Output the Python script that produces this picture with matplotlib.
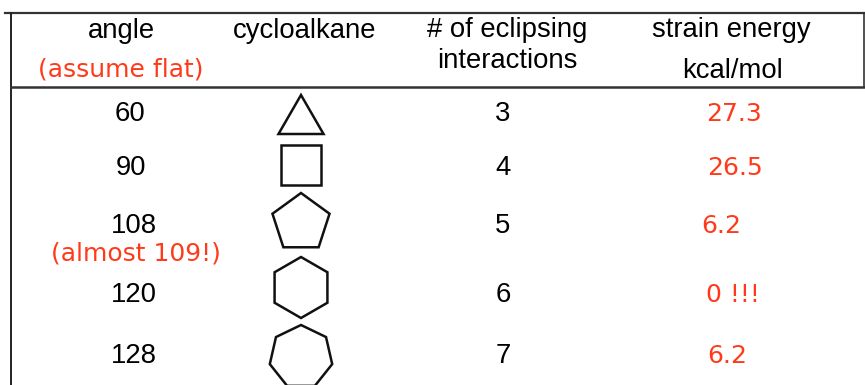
import numpy as np
import matplotlib.pyplot as plt
from matplotlib.patches import Polygon

# table content
headers = ["angle", "cycloalkane", "# of eclipsing\ninteractions", "strain energy"]
angles = ["60", "90", "108", "120", "128"]
ring_sizes = [3, 4, 5, 6, 7]
eclipsing = ["3", "4", "5", "6", "7"]
strain = ["27.3", "26.5", "6.2", "0 !!!", "6.2"]

RED = "#ff3a1a"
W, H = 865, 385

fig = plt.figure(figsize=(W / 100, H / 100), dpi=100)
ax = fig.add_axes([0, 0, 1, 1])
ax.set_xlim(0, W)
ax.set_ylim(H, 0)
ax.axis("off")

# frame lines
ax.plot([5, W], [12.5, 12.5], color="#333333", lw=1.6)
ax.plot([11, 11], [12.5, H], color="#222222", lw=1.4)
ax.plot([11, W], [86.5, 86.5], color="#333333", lw=1.8)
ax.plot([863.5, 863.5], [12.5, 86.5], color="#333333", lw=1.2)

sans = "Liberation Sans"
fs = 19.8

# header
ax.text(121, 38, headers[0], ha="center", va="baseline", fontsize=fs, family=sans)
ax.text(305, 38, headers[1], ha="center", va="baseline", fontsize=fs, family=sans)
ax.text(507, 37, "# of eclipsing", ha="center", va="baseline", fontsize=fs, family=sans)
ax.text(507, 68, "interactions", ha="center", va="baseline", fontsize=fs, family=sans)
ax.text(731, 37, headers[3], ha="center", va="baseline", fontsize=fs, family=sans)
ax.text(732, 78, "kcal/mol", ha="center", va="baseline", fontsize=fs, family=sans)
ax.text(121, 76, "(assume flat)", ha="center", va="baseline", fontsize=18,
        family="DejaVu Sans", color=RED)

# rows
row_base = [121, 175, 233, 302, 363]
angle_x = [130, 131, 134, 134, 134]
strain_x = [734, 735, 721, 733, 727]
shape_cy = [121, 165, 223, 287.5, 357]
shape_r = [26, 28, 30, 30.5, 32]

for i in range(len(angles)):
    ax.text(angle_x[i], row_base[i], angles[i], ha="center", va="baseline",
            fontsize=fs, family=sans)
    ax.text(503, row_base[i], eclipsing[i], ha="center", va="baseline",
            fontsize=fs, family=sans)
    ax.text(strain_x[i], row_base[i], strain[i], ha="center", va="baseline",
            fontsize=18, family="DejaVu Sans", color=RED)

    n = ring_sizes[i]
    start = np.pi / 2 + (np.pi / 4 if n == 4 else 0)
    t = start + 2 * np.pi * np.arange(n) / n
    pts = np.column_stack([301 + shape_r[i] * np.cos(t),
                           shape_cy[i] - shape_r[i] * np.sin(t)])
    ax.add_patch(Polygon(pts, closed=True, fill=False, ec="#111111", lw=1.8,
                         joinstyle="miter"))

ax.text(136, 260, "(almost 109!)", ha="center", va="baseline", fontsize=18,
        family="DejaVu Sans", color=RED)

fig.savefig("out.png", dpi=100, facecolor="white")
